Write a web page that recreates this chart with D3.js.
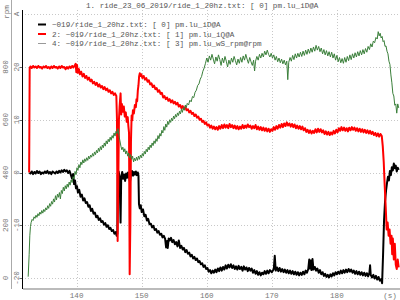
<!DOCTYPE html>
<html>
<head>
<meta charset="utf-8">
<script src="https://cdn.jsdelivr.net/npm/d3@7"></script>
<style>
  body { margin: 0; background: #fff; }
  svg { display: block; }
  text { font-family: "Liberation Mono", "DejaVu Sans Mono", monospace; font-size: 7.6px; }
</style>
</head>
<body>
<div id="chart"></div>
<script>
var width = 400, height = 300;
var plot = { left: 22, right: 400, top: 10, bottom: 289 };

var title = "1. ride_23_06_2019/ride_1_20hz.txt: [ 0] pm.lu_iD@A";
var legendNames = [
  "~019/ride_1_20hz.txt: [ 0] pm.lu_iD@A",
  "2: ~019/ride_1_20hz.txt: [ 1] pm.lu_iQ@A",
  "4: ~019/ride_1_20hz.txt: [ 3] pm.lu_wS_rpm@rpm"
];
var xTicks = [140, 150, 160, 170, 180];
var aTicks = [-20, -10, 0, 10, 20];
var rpmTicks = [0, 200, 400, 600, 800];

// [time s, current A]
var iD = [[132.75,0.0],[132.9,-0.2],[133.1,0.2],[133.3,-0.3],[133.5,0.1],[133.7,-0.2],[133.9,0.3],[134.1,-0.1],[134.3,0.2],[134.5,-0.3],[134.7,0.0],[134.9,-0.2],[135.1,0.2],[135.3,-0.1],[135.5,0.3],[135.7,-0.2],[135.9,0.1],[136.1,-0.3],[136.3,0.2],[136.5,0.0],[136.7,-0.2],[136.9,0.2],[137.1,-0.1],[137.3,0.3],[137.5,0.0],[137.7,0.4],[137.9,0.1],[138.1,0.5],[138.3,0.2],[138.5,0.4],[138.7,-0.1],[138.9,0.3],[139.1,-0.4],[139.3,-1.2],[139.45,-0.3],[139.6,-2.2],[139.75,-1.5],[139.9,-3.0],[140.05,-2.6],[140.2,-3.8],[140.4,-3.3],[140.6,-4.6],[140.8,-4.2],[141.0,-5.3],[141.2,-4.9],[141.4,-5.8],[141.6,-5.6],[141.8,-6.5],[142.0,-6.2],[142.2,-7.3],[142.4,-6.9],[142.6,-7.8],[142.8,-7.6],[143.0,-8.5],[143.2,-8.2],[143.4,-9.0],[143.6,-8.7],[143.8,-9.4],[144.0,-9.2],[144.2,-9.9],[144.4,-9.6],[144.6,-10.3],[144.8,-10.0],[145.0,-10.7],[145.2,-10.5],[145.4,-11.1],[145.6,-10.9],[145.8,-11.6],[146.0,-11.3],[146.15,-12.0],[146.25,-11.6],[146.32,-0.5],[146.45,0.2],[146.6,-0.8],[146.75,-9.5],[146.85,-1.0],[147.0,0.1],[147.15,-1.2],[147.3,-0.4],[147.45,-1.6],[147.6,-0.2],[147.75,-1.0],[147.9,0.0],[148.05,-0.8],[148.2,-1.8],[148.35,-0.3],[148.5,0.3],[148.65,-0.6],[148.8,0.1],[148.95,-0.4],[149.1,0.2],[149.25,-0.5],[149.4,0.0],[149.5,-0.6],[149.58,-6.0],[149.7,-6.8],[149.85,-6.2],[150.0,-7.5],[150.2,-7.0],[150.4,-8.3],[150.6,-8.0],[150.8,-9.1],[151.0,-8.8],[151.2,-9.8],[151.4,-9.7],[151.6,-10.4],[151.8,-10.1],[152.0,-10.9],[152.2,-10.7],[152.4,-11.4],[152.6,-11.1],[152.8,-11.8],[153.0,-11.6],[153.2,-12.3],[153.4,-12.0],[153.6,-12.6],[153.75,-14.2],[153.9,-13.0],[154.0,-14.3],[154.15,-12.5],[154.3,-12.9],[154.5,-12.4],[154.7,-13.2],[154.9,-12.8],[155.1,-13.6],[155.3,-13.2],[155.5,-14.0],[155.7,-12.9],[155.9,-14.3],[156.1,-13.9],[156.3,-14.6],[156.5,-14.3],[156.7,-15.1],[156.9,-14.7],[157.1,-15.4],[157.3,-15.2],[157.5,-15.9],[157.7,-15.6],[157.9,-16.3],[158.1,-16.0],[158.3,-16.6],[158.5,-16.3],[158.7,-17.0],[158.9,-16.8],[159.1,-17.4],[159.3,-17.2],[159.5,-17.9],[159.7,-17.6],[159.9,-18.3],[160.1,-18.1],[160.3,-18.8],[160.5,-18.5],[160.7,-19.1],[160.9,-18.6],[161.1,-19.0],[161.3,-18.4],[161.5,-18.9],[161.7,-18.2],[161.9,-18.7],[162.1,-18.0],[162.3,-18.6],[162.5,-17.9],[162.7,-18.4],[162.9,-17.6],[163.1,-18.2],[163.3,-17.5],[163.5,-18.0],[163.7,-17.4],[163.9,-18.1],[164.1,-17.6],[164.3,-18.3],[164.5,-17.8],[164.7,-18.4],[164.9,-17.7],[165.1,-18.3],[165.3,-17.9],[165.5,-18.6],[165.7,-17.8],[165.9,-18.4],[166.1,-18.0],[166.3,-18.7],[166.5,-18.1],[166.7,-18.6],[166.9,-18.2],[167.1,-19.0],[167.3,-18.5],[167.5,-19.2],[167.7,-18.7],[167.9,-19.4],[168.1,-18.9],[168.3,-19.5],[168.5,-19.0],[168.7,-19.3],[168.9,-18.7],[169.1,-19.2],[169.3,-18.6],[169.5,-19.1],[169.7,-18.5],[170.0,-18.9],[170.3,-18.3],[170.45,-15.8],[170.6,-18.6],[170.8,-18.0],[171.0,-18.7],[171.2,-18.1],[171.4,-18.8],[171.6,-18.3],[171.8,-18.9],[172.0,-18.4],[172.2,-19.0],[172.4,-18.5],[172.6,-19.1],[172.8,-18.6],[173.0,-19.2],[173.2,-18.7],[173.4,-19.3],[173.6,-18.8],[173.8,-19.4],[174.0,-18.9],[174.2,-19.5],[174.4,-19.0],[174.6,-19.4],[174.8,-18.8],[175.0,-19.3],[175.2,-18.6],[175.4,-19.0],[175.6,-18.3],[175.75,-16.5],[175.85,-18.2],[176.0,-16.7],[176.1,-18.5],[176.25,-16.4],[176.4,-18.4],[176.6,-17.9],[176.8,-18.6],[177.0,-18.2],[177.2,-19.0],[177.4,-18.5],[177.6,-19.3],[177.8,-18.9],[178.0,-19.6],[178.2,-19.2],[178.4,-19.8],[178.6,-19.4],[178.8,-19.9],[179.0,-19.3],[179.2,-19.7],[179.4,-19.1],[179.6,-19.5],[179.8,-18.9],[180.0,-19.3],[180.2,-18.8],[180.4,-19.2],[180.6,-18.6],[180.8,-19.1],[181.0,-18.5],[181.2,-19.0],[181.4,-18.4],[181.6,-18.9],[181.8,-18.3],[182.0,-18.8],[182.2,-18.4],[182.4,-19.0],[182.6,-18.6],[182.8,-19.2],[183.0,-18.7],[183.2,-19.3],[183.4,-18.8],[183.6,-19.4],[183.8,-18.9],[184.0,-19.5],[184.2,-19.0],[184.4,-19.6],[184.6,-19.1],[184.8,-19.7],[185.0,-19.0],[185.1,-17.6],[185.2,-19.4],[185.4,-19.9],[185.6,-19.4],[185.8,-20.1],[186.0,-19.6],[186.2,-20.3],[186.4,-19.8],[186.6,-20.5],[186.8,-20.2],[186.95,-21.0],[187.1,-15.5],[187.25,-9.0],[187.4,-5.5],[187.55,-3.5],[187.7,-2.0],[187.85,-0.8],[188.0,-1.5],[188.15,0.3],[188.3,-0.5],[188.45,1.0],[188.6,0.4],[188.75,1.7],[188.9,0.8],[189.05,1.3],[189.2,0.2],[189.35,0.9],[189.5,0.5]];

var iQ = [[132.7,0.0],[132.78,19.8],[132.9,20.1],[133.1,19.8],[133.3,20.2],[133.5,19.9],[133.7,20.1],[133.9,19.8],[134.1,20.2],[134.3,19.9],[134.5,20.0],[134.7,19.7],[134.9,20.1],[135.1,19.9],[135.3,20.2],[135.5,19.8],[135.7,20.0],[135.9,19.7],[136.1,20.1],[136.3,19.8],[136.5,20.2],[136.7,19.9],[136.9,20.0],[137.1,19.7],[137.3,20.1],[137.5,19.8],[137.7,20.2],[137.9,19.9],[138.1,20.0],[138.3,19.6],[138.5,20.0],[138.7,19.7],[138.9,20.1],[139.1,19.8],[139.3,20.2],[139.5,19.9],[139.7,20.3],[139.85,20.6],[139.95,19.0],[140.05,20.4],[140.2,18.9],[140.35,19.6],[140.5,18.6],[140.7,19.1],[140.9,18.2],[141.1,18.7],[141.3,17.9],[141.5,18.3],[141.7,17.6],[141.9,18.0],[142.1,17.3],[142.3,17.6],[142.5,16.9],[142.7,17.2],[142.9,16.6],[143.1,17.0],[143.3,16.3],[143.5,16.7],[143.7,16.1],[143.9,16.4],[144.1,15.8],[144.3,16.2],[144.5,15.6],[144.7,15.9],[144.9,15.3],[145.1,15.6],[145.3,15.0],[145.5,15.3],[145.7,14.7],[145.9,15.0],[146.1,14.5],[146.2,10.0],[146.3,-13.0],[146.4,-2.0],[146.5,10.0],[146.6,12.5],[146.75,15.0],[146.85,11.0],[146.95,13.0],[147.1,11.5],[147.25,12.5],[147.4,10.6],[147.55,11.4],[147.7,9.6],[147.85,10.5],[147.95,8.8],[148.05,7.5],[148.15,-19.3],[148.25,-10.0],[148.35,6.0],[148.45,10.8],[148.55,9.9],[148.65,11.8],[148.8,11.2],[148.95,12.8],[149.1,12.4],[149.2,13.9],[149.3,13.5],[149.4,15.5],[149.5,16.5],[149.6,18.2],[149.7,18.8],[149.8,18.3],[149.95,18.6],[150.1,17.9],[150.3,18.3],[150.5,17.6],[150.7,17.9],[150.9,17.2],[151.1,17.5],[151.3,16.7],[151.5,16.9],[151.7,16.2],[151.9,16.5],[152.1,15.8],[152.3,16.0],[152.5,15.3],[152.7,15.6],[152.9,14.9],[153.1,15.1],[153.3,14.2],[153.5,14.5],[153.7,13.9],[153.9,14.2],[154.1,13.6],[154.3,13.9],[154.5,13.3],[154.7,13.7],[154.9,13.1],[155.1,13.4],[155.3,12.9],[155.5,13.2],[155.7,12.5],[155.9,12.8],[156.1,12.2],[156.3,12.6],[156.5,12.0],[156.7,12.4],[156.9,11.8],[157.1,12.0],[157.3,11.4],[157.5,11.7],[157.7,11.1],[157.9,11.3],[158.1,10.7],[158.3,11.0],[158.5,10.4],[158.7,10.6],[158.9,10.0],[159.1,10.2],[159.3,9.6],[159.5,9.8],[159.7,9.2],[159.9,9.5],[160.1,8.9],[160.3,9.1],[160.5,8.5],[160.7,8.9],[160.9,8.3],[161.1,8.7],[161.3,8.2],[161.5,8.6],[161.7,8.1],[161.9,8.8],[162.1,8.3],[162.3,9.0],[162.5,8.4],[162.7,9.1],[162.9,8.5],[163.1,9.0],[163.3,8.4],[163.5,9.2],[163.7,8.6],[163.9,9.0],[164.1,8.4],[164.3,8.9],[164.5,8.3],[164.7,8.8],[164.9,8.2],[165.1,8.7],[165.3,8.3],[165.5,9.0],[165.7,8.4],[165.9,8.9],[166.1,8.5],[166.3,9.1],[166.5,8.6],[166.7,8.9],[166.9,8.3],[167.1,8.8],[167.3,8.4],[167.5,9.0],[167.7,8.2],[167.9,8.7],[168.1,8.1],[168.3,8.6],[168.5,8.0],[168.7,8.5],[168.9,7.9],[169.1,8.4],[169.3,7.8],[169.5,8.3],[169.7,7.7],[169.9,8.2],[170.1,7.9],[170.3,8.6],[170.5,8.1],[170.7,8.8],[170.9,8.3],[171.1,9.0],[171.3,8.5],[171.5,9.2],[171.7,8.6],[171.9,9.3],[172.1,8.8],[172.3,9.5],[172.5,8.9],[172.7,9.3],[172.9,8.7],[173.1,9.2],[173.3,8.6],[173.5,9.1],[173.7,8.4],[173.9,8.9],[174.1,8.3],[174.3,8.8],[174.5,8.2],[174.7,8.7],[174.9,8.0],[175.1,8.4],[175.3,7.7],[175.5,8.1],[175.7,7.5],[175.9,8.0],[176.1,7.4],[176.3,7.9],[176.5,7.5],[176.7,8.2],[176.9,7.6],[177.1,8.3],[177.3,7.7],[177.5,8.2],[177.7,7.6],[177.9,8.0],[178.1,7.3],[178.3,7.8],[178.5,7.2],[178.7,7.7],[178.9,7.1],[179.1,7.6],[179.3,7.2],[179.5,7.9],[179.7,7.4],[179.9,8.1],[180.1,7.6],[180.3,8.4],[180.5,7.9],[180.7,8.6],[180.9,8.0],[181.1,8.5],[181.3,7.9],[181.5,8.4],[181.7,7.8],[181.9,8.5],[182.1,8.0],[182.3,8.6],[182.5,8.1],[182.7,8.5],[182.9,7.9],[183.1,8.4],[183.3,7.8],[183.5,8.3],[183.7,7.7],[183.9,8.2],[184.1,7.6],[184.3,8.1],[184.5,7.5],[184.7,8.0],[184.9,7.4],[185.1,7.9],[185.3,7.3],[185.5,7.7],[185.7,7.1],[185.9,7.5],[186.1,6.9],[186.3,7.4],[186.5,6.8],[186.7,7.3],[186.9,6.9],[187.05,5.0],[187.2,2.0],[187.35,-2.5],[187.5,-6.5],[187.65,-10.8],[187.8,-9.5],[187.95,-12.0],[188.1,-10.8],[188.25,-13.5],[188.4,-12.0],[188.5,-15.5],[188.6,-12.5],[188.75,-16.5],[188.9,-13.5],[189.05,-17.5],[189.2,-18.3],[189.35,-16.5],[189.5,-18.0]];

// [time s, speed rpm]
var wS = [[132.55,5],[132.7,90],[132.8,160],[132.9,195],[133.0,210],[133.15,222],[133.3,218],[133.45,232],[133.6,226],[133.75,238],[133.9,230],[134.05,244],[134.2,236],[134.35,250],[134.5,242],[134.65,256],[134.8,246],[134.95,260],[135.1,252],[135.25,266],[135.4,258],[135.55,274],[135.7,264],[135.85,282],[136.0,272],[136.15,290],[136.3,280],[136.45,300],[136.6,288],[136.75,312],[136.9,296],[137.05,318],[137.2,306],[137.35,324],[137.5,300],[137.65,332],[137.8,320],[137.95,344],[138.1,330],[138.25,350],[138.4,338],[138.55,356],[138.7,344],[138.85,364],[139.0,352],[139.15,372],[139.3,362],[139.45,384],[139.6,376],[139.75,404],[139.9,392],[140.05,418],[140.2,408],[140.35,430],[140.5,418],[140.65,440],[140.8,430],[140.95,448],[141.1,436],[141.25,452],[141.4,442],[141.55,456],[141.7,446],[141.85,462],[142.0,452],[142.15,466],[142.3,458],[142.45,472],[142.6,462],[142.75,478],[142.9,468],[143.05,484],[143.2,474],[143.35,492],[143.5,480],[143.65,498],[143.8,486],[143.95,504],[144.1,494],[144.25,512],[144.4,500],[144.55,520],[144.7,508],[144.85,526],[145.0,516],[145.15,534],[145.3,522],[145.45,540],[145.6,530],[145.75,550],[145.9,538],[146.05,556],[146.2,548],[146.35,566],[146.5,540],[146.65,520],[146.8,500],[146.95,486],[147.1,496],[147.25,478],[147.4,490],[147.55,470],[147.7,482],[147.85,462],[148.0,474],[148.15,456],[148.3,468],[148.45,450],[148.6,462],[148.75,440],[148.9,454],[149.05,444],[149.2,458],[149.35,446],[149.5,462],[149.65,450],[149.8,466],[149.95,456],[150.1,472],[150.25,462],[150.4,480],[150.55,470],[150.7,488],[150.85,478],[151.0,496],[151.15,486],[151.3,504],[151.45,494],[151.6,512],[151.75,502],[151.9,520],[152.05,510],[152.2,528],[152.35,518],[152.5,540],[152.65,528],[152.8,548],[152.95,538],[153.1,560],[153.25,550],[153.4,574],[153.55,560],[153.7,584],[153.85,572],[154.0,594],[154.15,582],[154.3,600],[154.45,590],[154.6,606],[154.75,596],[154.9,614],[155.05,604],[155.2,620],[155.35,610],[155.5,626],[155.65,616],[155.8,632],[155.95,622],[156.1,640],[156.25,628],[156.4,646],[156.55,636],[156.7,656],[156.85,646],[157.0,662],[157.2,656],[157.4,674],[157.6,668],[157.8,688],[158.0,684],[158.2,704],[158.4,712],[158.6,730],[158.8,736],[159.0,754],[159.2,764],[159.4,784],[159.6,796],[159.8,814],[160.0,834],[160.2,818],[160.4,842],[160.6,826],[160.8,848],[161.0,830],[161.2,812],[161.4,838],[161.6,822],[161.8,846],[162.0,828],[162.2,806],[162.4,834],[162.6,816],[162.8,840],[163.0,822],[163.2,800],[163.4,826],[163.6,810],[163.8,834],[164.0,818],[164.2,840],[164.4,824],[164.6,808],[164.8,830],[165.0,814],[165.2,836],[165.4,818],[165.6,842],[165.8,826],[166.0,848],[166.2,830],[166.4,814],[166.6,836],[166.8,820],[167.0,806],[167.2,826],[167.35,785],[167.5,822],[167.7,840],[167.9,826],[168.1,848],[168.3,834],[168.5,852],[168.7,838],[168.9,860],[169.1,846],[169.3,864],[169.5,848],[169.7,838],[169.9,852],[170.1,834],[170.3,846],[170.5,826],[170.7,840],[170.9,820],[171.1,834],[171.3,816],[171.5,830],[171.7,812],[171.9,826],[172.1,808],[172.3,822],[172.45,752],[172.6,818],[172.8,836],[173.0,822],[173.2,844],[173.4,828],[173.6,850],[173.8,834],[174.0,852],[174.2,838],[174.4,856],[174.6,840],[174.8,860],[175.0,844],[175.2,864],[175.4,848],[175.6,868],[175.8,852],[176.0,872],[176.2,856],[176.4,876],[176.6,860],[176.8,882],[177.0,864],[177.2,878],[177.4,858],[177.6,872],[177.8,850],[178.0,866],[178.2,846],[178.4,862],[178.6,842],[178.8,858],[179.0,838],[179.2,856],[179.4,834],[179.6,850],[179.8,826],[180.0,844],[180.2,820],[180.4,836],[180.6,816],[180.8,832],[181.0,814],[181.2,836],[181.4,818],[181.6,840],[181.8,824],[182.0,846],[182.2,828],[182.4,850],[182.6,834],[182.8,854],[183.0,838],[183.2,858],[183.4,842],[183.6,862],[183.8,846],[184.0,866],[184.2,850],[184.4,870],[184.6,856],[184.8,878],[185.0,866],[185.2,888],[185.4,876],[185.6,898],[185.8,892],[186.0,912],[186.2,906],[186.35,934],[186.5,918],[186.65,928],[186.8,910],[186.95,916],[187.1,896],[187.25,900],[187.4,878],[187.55,880],[187.7,860],[187.85,850],[188.0,822],[188.15,810],[188.3,770],[188.45,740],[188.6,700],[188.75,690],[188.9,655],[189.05,660],[189.2,625],[189.35,660],[189.5,645]];

var series = [
  { data: iD, axis: "A", color: "#000", width: 2 },
  { data: iQ, axis: "A", color: "#f00", width: 2 },
  { data: wS, axis: "rpm", color: "#3a7f3a", width: 1 }
];
var legendColors = ["#000", "#f00", "#999"];

var x = d3.scaleLinear().domain([131.6, 189.7]).range([plot.left, plot.right]);
var yA = d3.scaleLinear().domain([-20, 20]).range([278, 67]);
var yR = d3.scaleLinear().domain([0, 800]).range([278, 67]);

var svg = d3.select("#chart").append("svg")
  .attr("width", width)
  .attr("height", height);

svg.append("defs").append("clipPath").attr("id", "clip")
  .append("rect")
  .attr("x", plot.left).attr("y", plot.top)
  .attr("width", plot.right - plot.left).attr("height", plot.bottom - plot.top);

// grid
var grid = svg.append("g")
  .attr("stroke", "#c8c8c8")
  .attr("stroke-dasharray", "1,2");

grid.selectAll(".vgrid").data(xTicks).enter().append("line")
  .attr("x1", function(d) { return Math.round(x(d)) + 0.5; })
  .attr("x2", function(d) { return Math.round(x(d)) + 0.5; })
  .attr("y1", plot.top).attr("y2", plot.bottom - 1);

grid.selectAll(".hgrid").data(aTicks.concat([30])).enter().append("line")
  .attr("x1", plot.left).attr("x2", plot.right)
  .attr("y1", function(d) { return Math.round(yA(d)) + 0.5; })
  .attr("y2", function(d) { return Math.round(yA(d)) + 0.5; });

// traces
var traces = svg.append("g").attr("clip-path", "url(#clip)");
series.forEach(function(s) {
  var yS = s.axis == "A" ? yA : yR;
  var line = d3.line()
    .x(function(d) { return x(d[0]); })
    .y(function(d) { return yS(d[1]); });
  traces.append("path")
    .datum(s.data)
    .attr("fill", "none")
    .attr("stroke", s.color)
    .attr("stroke-width", s.width)
    .attr("stroke-linejoin", "round")
    .attr("d", line);
});

// left axes
svg.append("line")
  .attr("x1", 11.5).attr("x2", 11.5).attr("y1", 0).attr("y2", plot.bottom)
  .attr("stroke", "#aaa");
svg.append("line")
  .attr("x1", plot.left + 0.5).attr("x2", plot.left + 0.5).attr("y1", plot.top).attr("y2", plot.bottom)
  .attr("stroke", "#000");

svg.selectAll(".atick").data(aTicks).enter().append("line")
  .attr("x1", 19.5).attr("x2", plot.left)
  .attr("y1", function(d) { return Math.round(yA(d)) + 0.5; })
  .attr("y2", function(d) { return Math.round(yA(d)) + 0.5; })
  .attr("stroke", "#666");

function vlabel(g, xpos, ypos, txt) {
  g.append("text")
    .attr("transform", "translate(" + xpos + "," + ypos + ") rotate(-90)")
    .attr("text-anchor", "middle")
    .attr("fill", "#777")
    .text(txt);
}
var lab = svg.append("g");
rpmTicks.forEach(function(d) { vlabel(lab, 7.5, yR(d), d); });
aTicks.forEach(function(d) { vlabel(lab, 19.3, yA(d), d); });
vlabel(lab, 9, 12, "rpm");
vlabel(lab, 19.3, 14, "A");

// bottom axis
svg.append("line")
  .attr("x1", plot.left + 1).attr("x2", plot.right).attr("y1", plot.bottom).attr("y2", plot.bottom)
  .attr("stroke", "#bbb").attr("stroke-width", 2);

svg.selectAll(".xlabel").data(xTicks).enter().append("text")
  .attr("x", function(d) { return x(d); })
  .attr("y", 297.5)
  .attr("text-anchor", "middle")
  .attr("fill", "#777")
  .text(function(d) { return d; });
svg.append("text")
  .attr("x", 390).attr("y", 297.5)
  .attr("text-anchor", "middle")
  .attr("fill", "#777")
  .text("(s)");

// title
svg.append("text")
  .attr("x", 86).attr("y", 8)
  .attr("fill", "#555")
  .text(title);

// legend
var legend = svg.append("g");
legendNames.forEach(function(name, i) {
  var ly = 24.5 + i * 9.5;
  legend.append("line")
    .attr("x1", 38).attr("x2", 46).attr("y1", ly).attr("y2", ly)
    .attr("stroke", legendColors[i])
    .attr("stroke-width", i < 2 ? 2 : 1);
  legend.append("text")
    .attr("x", 52).attr("y", ly + 2.5)
    .attr("fill", "#555")
    .text(name);
});
</script>
</body>
</html>
